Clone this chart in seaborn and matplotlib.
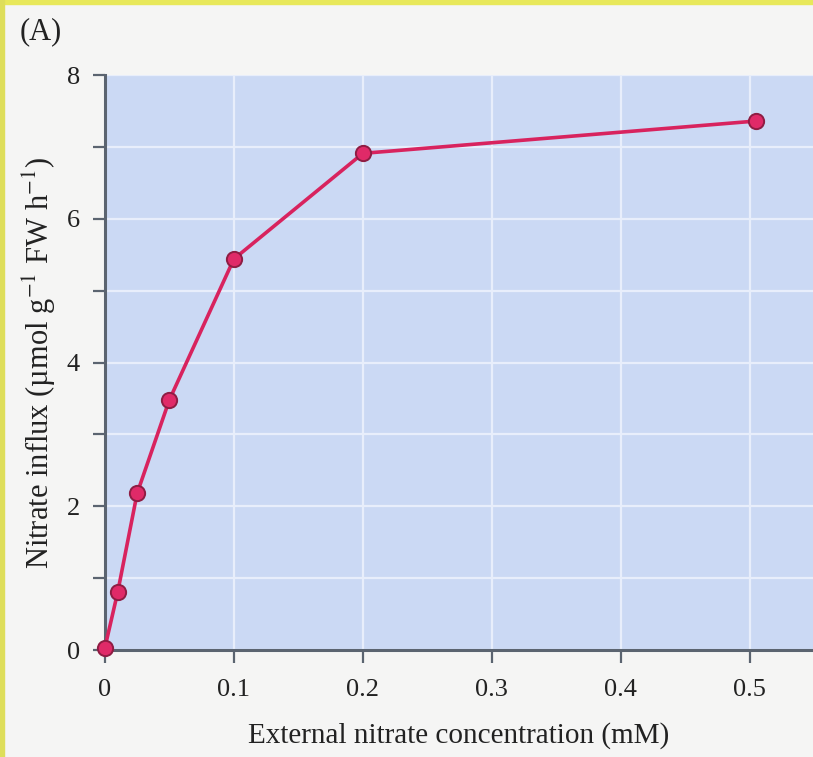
import matplotlib
matplotlib.use("Agg")
import matplotlib.pyplot as plt
import matplotlib.patches as mpatches
from matplotlib.ticker import MultipleLocator
import pandas as pd
import seaborn as sns

# ── Data ─────────────────────────────────────────────────────────────────────
conc_mM = [0.0, 0.01, 0.025, 0.05, 0.1, 0.2, 0.505]
influx = [0.03, 0.81, 2.18, 3.48, 5.44, 6.91, 7.36]
x_ticks = [0, 0.1, 0.2, 0.3, 0.4, 0.5]
x_tick_labels = ["0", "0.1", "0.2", "0.3", "0.4", "0.5"]
y_ticks = [0, 2, 4, 6, 8]

df = pd.DataFrame({"conc": conc_mM, "influx": influx})

# ── Style ────────────────────────────────────────────────────────────────────
sns.set_theme(style="white")
plt.rcParams["font.family"] = ["Liberation Serif", "DejaVu Serif"]
plt.rcParams["mathtext.fontset"] = "stix"

BG_FIG = "#f5f5f4"
BG_AX = "#cbd9f4"
SPINE = "#5b6470"
LINE = "#d8235e"
TXT = "#222222"

fig = plt.figure(figsize=(8.13, 7.57), dpi=100, facecolor=BG_FIG)
ax = fig.add_axes([0.129, 0.1413, 0.871, 0.7596])
ax.set_facecolor(BG_AX)

sns.lineplot(data=df, x="conc", y="influx", ax=ax, color=LINE, lw=2.6,
             marker="o", markersize=11, markerfacecolor="#e02a68",
             markeredgecolor="#8e1d43", markeredgewidth=1.4, clip_on=False,
             zorder=5)

ax.set_xlim(0, 0.549)
ax.set_ylim(0, 8)
ax.set_xticks(x_ticks)
ax.set_xticklabels(x_tick_labels)
ax.set_yticks(y_ticks)
ax.yaxis.set_minor_locator(MultipleLocator(1))

ax.grid(True, which="both", color="#e8eefb", lw=1.6)
ax.set_axisbelow(True)

for side in ["top", "right"]:
    ax.spines[side].set_visible(False)
for side in ["left", "bottom"]:
    ax.spines[side].set_color(SPINE)
    ax.spines[side].set_linewidth(2.2)

ax.tick_params(axis="both", which="both", direction="out", color=SPINE,
               bottom=True, left=True, width=1.6, labelsize=19,
               labelcolor=TXT, length=9)
ax.tick_params(axis="x", which="major", pad=12)
ax.tick_params(axis="y", which="major", pad=9)

ax.set_xlabel("External nitrate concentration (mM)", fontsize=21,
              color=TXT, labelpad=15)
ax.set_ylabel(r"Nitrate influx (µmol g$^{-1}$ FW h$^{-1}$)", fontsize=22,
              color=TXT, labelpad=6)

fig.text(0.024, 0.958, "(A)", fontsize=22, color=TXT, ha="left",
         va="center")

# yellow frame on top and left edges
fig.patches.append(mpatches.Rectangle((0, 0.995), 1, 0.005, color="#e8e85a",
                                      transform=fig.transFigure))
fig.patches.append(mpatches.Rectangle((0, 0), 0.005, 1, color="#dede5a",
                                      transform=fig.transFigure))

fig.savefig("out.png", dpi=100, facecolor=BG_FIG)
